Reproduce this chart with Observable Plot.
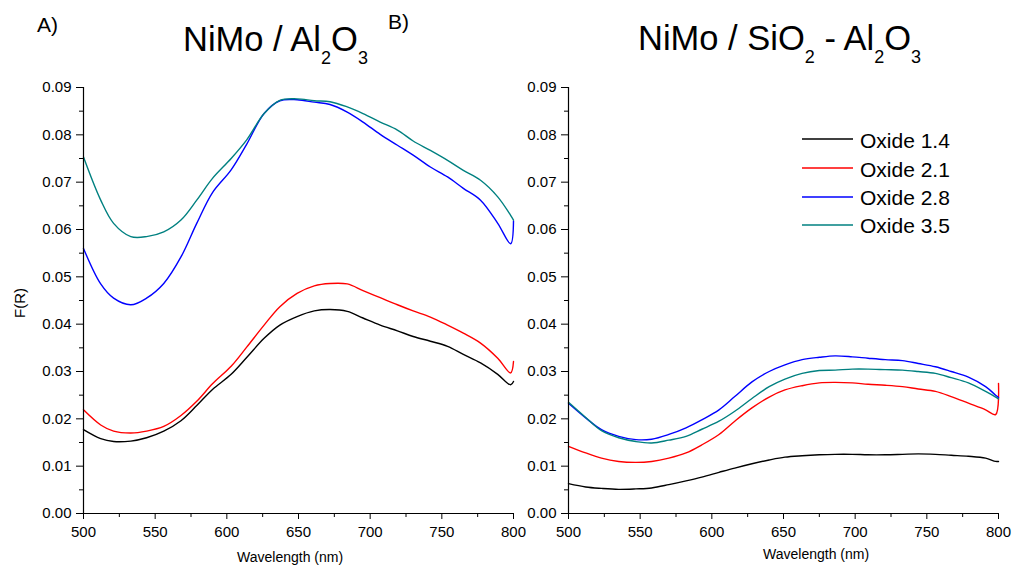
<!DOCTYPE html>
<html>
<head>
<meta charset="utf-8">
<script src="https://cdn.jsdelivr.net/npm/d3@7"></script>
<script src="https://cdn.jsdelivr.net/npm/@observablehq/plot@0.6"></script>
<style>
  html, body { margin: 0; padding: 0; background: #fff; }
  #chart { position: relative; width: 1013px; height: 565px; overflow: hidden; font-family: "Liberation Sans", Arial, sans-serif; color: #000; }
  #chart svg { position: absolute; top: 0; }
  .t { position: absolute; white-space: nowrap; line-height: 1; }
  .sub { position: relative; }
</style>
</head>
<body>
<div id="chart"></div>
<script>
// ---- Data ----
const seriesNames = ["Oxide 1.4", "Oxide 2.1", "Oxide 2.8", "Oxide 3.5"];
const seriesColors = ["#000000", "#ff0000", "#0000ff", "#008080"];

// Panel A: NiMo / Al2O3
const wavelengthA = [500,512,521,533,544,556,568,579,590,603,614,626,637,649,661,672,684,695,707,719,730,742,754,765,777,789,798,800];
const alOxide14 = [0.0177,0.0158,0.0152,0.0153,0.0160,0.0174,0.0196,0.0228,0.0262,0.0294,0.0330,0.0370,0.0398,0.0416,0.0428,0.0431,0.0427,0.0413,0.0398,0.0386,0.0374,0.0364,0.0353,0.0336,0.0318,0.0294,0.0272,0.0279];
const alOxide21 = [0.0219,0.0187,0.0174,0.0170,0.0174,0.0184,0.0207,0.0237,0.0274,0.0311,0.0352,0.0398,0.0437,0.0465,0.0481,0.0486,0.0485,0.0471,0.0456,0.0441,0.0428,0.0415,0.0398,0.0381,0.0360,0.0328,0.0297,0.0321];
const alOxide28 = [0.0560,0.0485,0.0455,0.0441,0.0455,0.0486,0.0542,0.0613,0.0678,0.0726,0.0781,0.0845,0.0872,0.0874,0.0869,0.0864,0.0848,0.0827,0.0801,0.0778,0.0757,0.0732,0.0711,0.0687,0.0662,0.0613,0.0570,0.0618];
const alOxide35 = [0.0753,0.0662,0.0613,0.0585,0.0585,0.0595,0.0620,0.0662,0.0708,0.0750,0.0790,0.0845,0.0873,0.0876,0.0872,0.0870,0.0859,0.0845,0.0827,0.0810,0.0787,0.0767,0.0746,0.0725,0.0704,0.0669,0.0630,0.0620];

// Panel B: NiMo / SiO2 - Al2O3
const wavelengthB = [500,512,523,535,547,558,570,582,593,605,616,628,640,651,663,675,686,698,709,721,733,744,756,767,779,791,798,800];
const siOxide14 = [0.0063,0.0056,0.0053,0.0051,0.0052,0.0054,0.0061,0.0069,0.0077,0.0087,0.0096,0.0105,0.0113,0.0119,0.0122,0.0124,0.0125,0.0125,0.0124,0.0124,0.0125,0.0126,0.0125,0.0123,0.0121,0.0117,0.0110,0.0110];
const siOxide21 = [0.0142,0.0128,0.0117,0.0110,0.0108,0.0110,0.0117,0.0128,0.0145,0.0167,0.0195,0.0223,0.0246,0.0261,0.0270,0.0276,0.0277,0.0276,0.0273,0.0271,0.0268,0.0263,0.0258,0.0247,0.0233,0.0219,0.0209,0.0275];
const siOxide28 = [0.0233,0.0202,0.0177,0.0163,0.0156,0.0157,0.0167,0.0181,0.0198,0.0219,0.0247,0.0278,0.0300,0.0314,0.0325,0.0330,0.0333,0.0331,0.0328,0.0325,0.0323,0.0317,0.0310,0.0300,0.0288,0.0268,0.0250,0.0245];
const siOxide35 = [0.0235,0.0203,0.0175,0.0160,0.0152,0.0149,0.0155,0.0163,0.0178,0.0195,0.0216,0.0243,0.0268,0.0284,0.0296,0.0302,0.0303,0.0305,0.0305,0.0304,0.0303,0.0300,0.0296,0.0287,0.0276,0.0258,0.0246,0.0242];

// Ticks
const xTicks = [500,550,600,650,700,750,800];
const xMinorTicks = [525,575,625,675,725,775];
const yTicks = [0,0.01,0.02,0.03,0.04,0.05,0.06,0.07,0.08,0.09];
const yMinorTicks = [0.005,0.015,0.025,0.035,0.045,0.055,0.065,0.075,0.085];

// Text
const xLabel = "Wavelength (nm)";
const yLabel = "F(R)";

// ---- Build ----
function rowsFor(wl, arrays) {
  const rows = [];
  arrays.forEach((vals, i) => wl.forEach((w, j) => rows.push({series: seriesNames[i], w, v: vals[j]})));
  return rows;
}

function panel(rows, width, marginLeft, marginRight) {
  return Plot.plot({
    width, height: 565,
    marginLeft, marginRight, marginTop: 87, marginBottom: 52,
    x: {domain: [500, 800], label: null},
    y: {domain: [0, 0.09], label: null},
    color: {domain: seriesNames, range: seriesColors},
    style: {background: "none", overflow: "visible", fontFamily: "'Liberation Sans', Arial, sans-serif", fontSize: "15px", color: "#000"},
    marks: [
      Plot.line(rows, {x: "w", y: "v", z: "series", stroke: "series", strokeWidth: 1.4, curve: "catmull-rom"}),
      Plot.ruleX([500], {stroke: "#000", strokeWidth: 1.2}),
      Plot.ruleY([0], {stroke: "#000", strokeWidth: 1.2}),
      Plot.axisX(xTicks, {tickSize: 6, tickPadding: 7, tickFormat: "d", label: null}),
      Plot.axisX(xMinorTicks, {tickSize: 4, tickFormat: () => "", label: null}),
      Plot.axisY(yTicks, {tickSize: 7, tickPadding: 5, tickFormat: d3.format(".2f"), label: null}),
      Plot.axisY(yMinorTicks, {tickSize: 4, tickFormat: () => "", label: null})
    ]
  });
}

const chart = document.getElementById("chart");

const left = panel(rowsFor(wavelengthA, [alOxide14, alOxide21, alOxide28, alOxide35]), 520, 83, 7);
left.style.left = "0px";
chart.appendChild(left);

const right = panel(rowsFor(wavelengthB, [siOxide14, siOxide21, siOxide28, siOxide35]), 513, 68, 15);
right.style.left = "500px";
chart.appendChild(right);

function addText(html, x, baseline, size, extra) {
  const d = document.createElement("div");
  d.className = "t";
  d.innerHTML = html;
  d.style.left = x + "px";
  d.style.top = (baseline - 0.8465 * size) + "px";
  d.style.fontSize = size + "px";
  if (extra) Object.assign(d.style, extra);
  chart.appendChild(d);
  return d;
}
const sub = s => `<span class="sub" style="font-size:18px;top:13px">${s}</span>`;

addText("A)", 37, 31.5, 21);
addText("B)", 388, 28.3, 21);
addText(`NiMo / Al${sub("2")}O${sub("3")}`, 183, 51.5, 34.5);
addText(`NiMo / SiO${sub("2")} - Al${sub("2")}O${sub("3")}`, 638, 50.5, 34.5);

addText(xLabel, 237, 561.5, 14);
addText(xLabel, 763, 559, 14);
const yl = addText(yLabel, 12, 305, 15);
yl.style.left = "12px"; yl.style.top = "318px"; yl.style.transformOrigin = "0 0"; yl.style.transform = "rotate(-90deg)";

// Legend
const legendY = [139.3, 168.3, 196.7, 225];
seriesNames.forEach((name, i) => {
  const svgNS = "http://www.w3.org/2000/svg";
  const s = document.createElementNS(svgNS, "svg");
  s.setAttribute("width", 52); s.setAttribute("height", 4);
  s.style.left = "802px"; s.style.top = (legendY[i] - 2) + "px";
  const ln = document.createElementNS(svgNS, "line");
  ln.setAttribute("x1", 0); ln.setAttribute("x2", 51); ln.setAttribute("y1", 2); ln.setAttribute("y2", 2);
  ln.setAttribute("stroke", seriesColors[i]); ln.setAttribute("stroke-width", 1.5);
  s.appendChild(ln);
  chart.appendChild(s);
  addText(name, 860, legendY[i] + 8, 21);
});
</script>
</body>
</html>
